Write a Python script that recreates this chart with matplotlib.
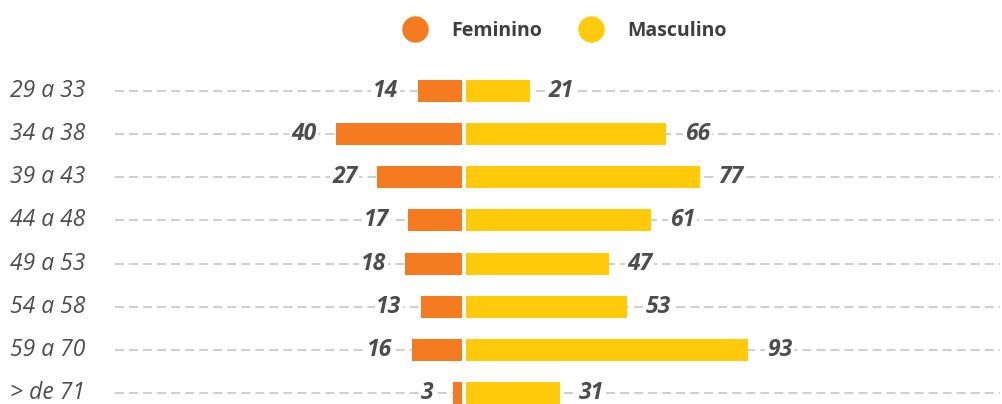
import matplotlib.pyplot as plt
from matplotlib.lines import Line2D
from matplotlib.transforms import blended_transform_factory

faixas = ["29 a 33", "34 a 38", "39 a 43", "44 a 48", "49 a 53", "54 a 58", "59 a 70", "> de 71"]
feminino = [14, 40, 27, 17, 18, 13, 16, 3]
masculino = [21, 66, 77, 61, 47, 53, 93, 31]

LARANJA = "#F47B20"
AMARELO = "#FFCA0A"
CINZA_TEXTO = "#4D4D4D"
CINZA_LEGENDA = "#3F3F3F"
CINZA_GRADE = "#D0D0D0"

W, H = 1002, 404
plt.rcParams["font.family"] = ["Open Sans", "DejaVu Sans"]
plt.rcParams["lines.scale_dashes"] = False


def px_box(x0, x1, y_top, y_bottom):
    # converte caixa em pixels para fração da figura
    return [x0 / W, 1 - y_bottom / H, (x1 - x0) / W, (y_bottom - y_top) / H]


fig = plt.figure(figsize=(W / 100, H / 100), dpi=100)

row_px = 43.14
top, bottom = 68, 404
ylim = (7 + (bottom - 393) / row_px, -(91 - top) / row_px)
pos = list(range(len(faixas)))
bar_h = 22 / row_px

# linhas de grade tracejadas
ax_bg = fig.add_axes(px_box(115, 1000, top, bottom))
ax_bg.set_xlim(0, 1)
ax_bg.set_ylim(*ylim)
ax_bg.hlines(pos, 0, 1, colors=CINZA_GRADE, linewidth=1.5, linestyles=(0, (6.5, 3.6)))
ax_bg.axis("off")

# rótulos das faixas etárias
trans = blended_transform_factory(fig.transFigure, ax_bg.transData)
for i, faixa in enumerate(faixas):
    fig.text(10 / W, i, faixa, transform=trans, ha="left", va="center",
             fontsize=16.5, style="italic", color=CINZA_TEXTO)

# lado feminino (esquerda)
ax_f = fig.add_axes(px_box(115, 462, top, bottom))
ax_f.set_xlim(347 / 3.15, 0)
ax_f.set_ylim(*ylim)
ax_f.barh(pos, feminino, height=bar_h, color=LARANJA)

# lado masculino (direita)
ax_m = fig.add_axes(px_box(465.7, 1000, top, bottom))
ax_m.set_xlim(0, 534.3 / 3.04)
ax_m.set_ylim(*ylim)
ax_m.barh(pos, masculino, height=bar_h, color=AMARELO)

label_kw = dict(textcoords="offset points", va="center", fontsize=16.5,
                fontweight="bold", style="italic", color=CINZA_TEXTO,
                bbox=dict(boxstyle="square,pad=0.08", fc="white", ec="none"))
for i, v in enumerate(feminino):
    ax_f.annotate(str(v), (v, i), xytext=(-14, 0), ha="right", **label_kw)
for i, v in enumerate(masculino):
    ax_m.annotate(str(v), (v, i), xytext=(13.5, 0), ha="left", **label_kw)

for ax in (ax_f, ax_m):
    ax.axis("off")

handles = [
    Line2D([], [], marker="o", ls="", ms=19, mfc=LARANJA, mec="none"),
    Line2D([], [], marker="o", ls="", ms=19, mfc=AMARELO, mec="none"),
]
fig.legend(handles, ["Feminino", "Masculino"], ncol=2, loc="center",
           bbox_to_anchor=(564 / W, 1 - 31 / H), frameon=False,
           prop={"weight": "bold", "size": 14}, labelcolor=CINZA_LEGENDA,
           handlelength=1.4, handletextpad=1.15, columnspacing=1.8)

fig.savefig("out.png", dpi=100)
